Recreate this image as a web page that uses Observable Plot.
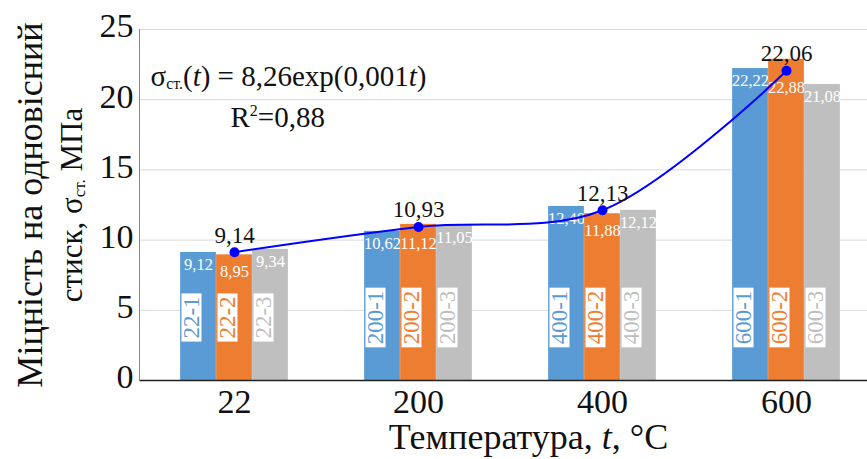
<!DOCTYPE html>
<html><head><meta charset="utf-8">
<script src="https://cdn.jsdelivr.net/npm/d3@7"></script>
<script src="https://cdn.jsdelivr.net/npm/@observablehq/plot@0.6"></script>
<style>
body{margin:0;background:#fff}
svg, svg text, svg tspan{font-family:"Liberation Serif","Times New Roman",serif !important}
</style>
</head><body><div id="chart"></div>
<script>
const temperatures = ["22", "200", "400", "600"];
const seriesIds = ["1", "2", "3"];
const values1 = [9.12, 10.62, 12.40, 22.22];
const values2 = [8.95, 11.12, 11.88, 22.88];
const values3 = [9.34, 11.05, 12.12, 21.08];
const meanValues = [9.14, 10.93, 12.13, 22.06];
const yTicks = [0, 5, 10, 15, 20, 25];
const colors = ["#5B9BD5", "#ED7D31", "#BFBFBF"];
const yLabel1 = "Міцність на одновісний";
const yLabel2 = "стиск, σ_{ст.} МПа";
const xLabel = "Температура, *t*, °C";
const equation = "σ_{ст.}(*t*) = 8,26exp(0,001*t*)";
const r2 = "R^{2}=0,88";

const fmt = v => v.toFixed(2).replace(".", ",");
const seriesValues = [values1, values2, values3];
const bars = [];
seriesValues.forEach((vals, k) => vals.forEach((v, i) => bars.push({t: temperatures[i], s: k, v, m: meanValues[i], name: `${temperatures[i]}-${seriesIds[k]}`})));
const means = meanValues.map((v, i) => ({t: temperatures[i], v}));

const FF = "Liberation Serif";
const BW = 184.25, BAR = 36, PADL = (BW - 3 * BAR) / 2;
const marks = [
  Plot.gridY(yTicks, {stroke: "#D9D9D9", strokeOpacity: 1, strokeWidth: 1})
];
seriesIds.forEach((s, k) => {
  const d = bars.filter(b => b.s === k);
  marks.push(Plot.barY(d, {x: "t", y: "v", fill: colors[k], insetLeft: PADL + BAR * k, insetRight: BW - PADL - BAR * (k + 1)}));
  // the middle bar's value sits below the mean point when the point is lower than the bar top
  marks.push(Plot.text(d, {x: "t", y: b => (k === 1 ? Math.min(b.v, b.m) : b.v), text: b => fmt(b.v), dx: (k - 1) * BAR, dy: k === 1 ? 17 : 12, fill: "white", fontSize: 16.5, fontFamily: FF}));
  marks.push(Plot.text(d, {x: "t", text: "name", dx: (k - 1) * BAR, frameAnchor: "bottom", dy: -63, rotate: -90, textAnchor: "middle", fill: colors[k], fontSize: 23, fontFamily: FF, className: "namebox"}));
});
marks.push(
  Plot.ruleY([0], {stroke: "#222", strokeWidth: 1.5}),
  Plot.frame({anchor: "left", stroke: "#888"}),
  Plot.line(means, {x: "t", y: "v", stroke: "#0000FF", strokeWidth: 2, curve: "catmull-rom"}),
  Plot.dot(means, {x: "t", y: "v", r: 5, fill: "#0000FF"}),
  Plot.text(means, {x: "t", y: "v", text: d => fmt(d.v), dy: -17, fontSize: 23, fill: "#111", fontFamily: FF}),
  Plot.axisY(yTicks, {tickSize: 0, tickPadding: 6, dy: -3, fontSize: 34, label: null, tickFormat: d => String(d), fill: "#111", fontFamily: FF}),
  Plot.axisX({tickSize: 0, tickPadding: 8, fontSize: 34, label: null, fill: "#111", fontFamily: FF}),
  Plot.text([equation], {frameAnchor: "top-left", dx: 11, dy: 36, textAnchor: "start", fontSize: 29, fill: "#111", fontFamily: FF}),
  Plot.text([r2], {frameAnchor: "top-left", dx: 91, dy: 77, textAnchor: "start", fontSize: 29, fill: "#111", fontFamily: FF}),
  Plot.text([yLabel1], {frameAnchor: "left", dx: -109, dy: 0, rotate: -90, textAnchor: "middle", fontSize: 36, fill: "#111", fontFamily: FF}),
  Plot.text([yLabel2], {frameAnchor: "left", dx: -67, dy: 0, rotate: -90, textAnchor: "middle", fontSize: 31, fill: "#111", fontFamily: FF}),
  Plot.text([xLabel], {frameAnchor: "bottom", dx: 25, dy: 68, fontSize: 36, fill: "#111", fontFamily: FF})
);

const chart = Plot.plot({
  width: 867, height: 459,
  marginLeft: 139, marginRight: 0, marginTop: 29, marginBottom: 79,
  style: {fontFamily: "'Liberation Serif', serif", background: "white", overflow: "visible"},
  x: {type: "band", domain: temperatures, range: [141, 878], padding: 0},
  y: {domain: [0, 25]},
  marks
});
document.getElementById("chart").appendChild(chart);

// every text goes through tspans; rich markup: _{sub}, ^{sup}, *italic*
d3.select(chart).selectAll("text").each(function() {
  if (this.querySelector("tspan")) return;
  const t = this.textContent;
  const parts = t.split(/(_\{[^}]*\}|\^\{[^}]*\}|\*[^*]*\*)/).filter(p => p !== "");
  const sel = d3.select(this);
  sel.attr("font-family", "Liberation Serif");
  sel.text(null);
  parts.forEach(p => {
    let ts;
    if (p.startsWith("_{")) ts = sel.append("tspan").attr("font-size", "55%").attr("baseline-shift", "-18%").text(p.slice(2, -1));
    else if (p.startsWith("^{")) ts = sel.append("tspan").attr("font-size", "55%").attr("baseline-shift", "70%").text(p.slice(2, -1));
    else if (p.startsWith("*")) ts = sel.append("tspan").attr("font-style", "italic").text(p.slice(1, -1));
    else ts = sel.append("tspan").text(p);
    ts.attr("font-family", "Liberation Serif");
  });
});
// white boxes behind the sample names
d3.select(chart).selectAll("g.namebox text").each(function() {
  const b = this.getBBox();
  const tr = this.getAttribute("transform");
  const r = document.createElementNS("http://www.w3.org/2000/svg", "rect");
  r.setAttribute("x", b.x - 3); r.setAttribute("y", b.y + 3);
  r.setAttribute("width", b.width + 6); r.setAttribute("height", b.height - 5);
  r.setAttribute("fill", "white");
  if (tr) r.setAttribute("transform", tr);
  this.parentNode.insertBefore(r, this);
});
</script></body></html>
